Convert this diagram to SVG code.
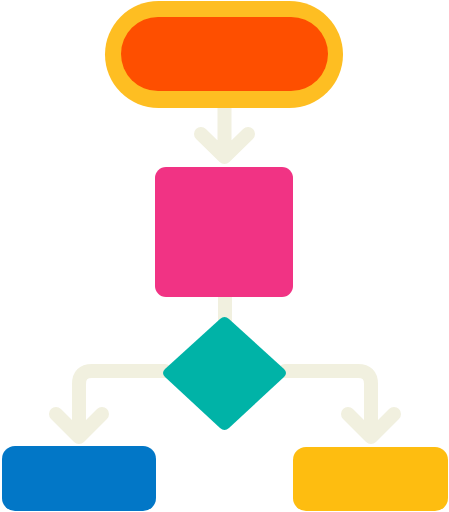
<svg xmlns="http://www.w3.org/2000/svg" width="449" height="512" viewBox="0 0 449 512">
<style>
.conn{fill:none;stroke:#F1F0DF;stroke-width:14;stroke-linecap:round;stroke-linejoin:round}
</style>
<rect width="449" height="512" fill="#FFFFFF"/>
<g id="connectors">
<path class="conn" d="M224.5 108 V156 M201 134 L224.5 157 L248 134" stroke-width="15"/>
<path class="conn" d="M225 297 V322" stroke-linecap="butt" stroke-width="15"/>
<path class="conn" d="M165 371 H92 Q79 371 79 384 V436 M56 414 L79 437 L102 414"/>
<path class="conn" d="M285 371 H358 Q371 371 371 384 V436 M348 414 L371 437 L394 414"/>
</g>
<g id="start">
<rect x="105" y="1" width="238" height="107" rx="53.5" fill="#FEBE22"/>
<rect x="121" y="17" width="207" height="74" rx="37" fill="#FE4F00"/>
</g>
<g id="process">
<rect x="155" y="167" width="138" height="130" rx="11" fill="#F13384"/>
</g>
<g id="decision">
<path d="M220 319 Q224.5 315 229 319 L284 369 Q288 373 284 377 L229 428 Q224.5 432 220 428 L165 377 Q161 373 165 369 Z" fill="#00B3A7"/>
</g>
<g id="left">
<rect x="2" y="446" width="154" height="65" rx="13" fill="#0277C7"/>
</g>
<g id="right">
<rect x="293" y="447" width="155" height="64" rx="13" fill="#FEBD10"/>
</g>
</svg>
